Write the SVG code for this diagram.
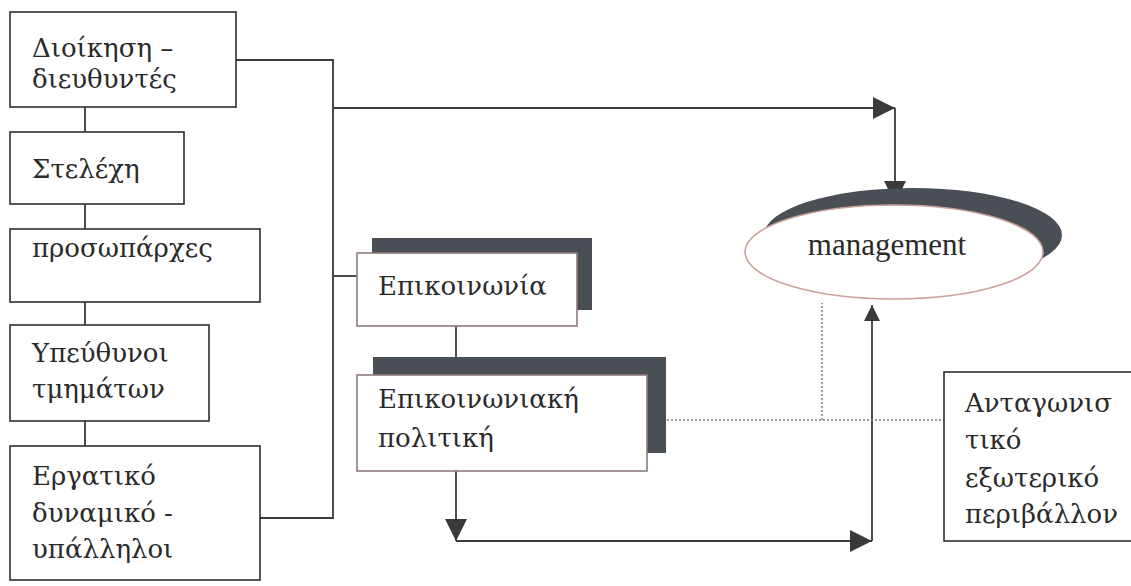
<svg xmlns="http://www.w3.org/2000/svg" width="1131" height="586" viewBox="0 0 1131 586">
<defs>
<marker id="arr" viewBox="0 0 10 10" refX="10" refY="5" markerWidth="22" markerHeight="22" markerUnits="userSpaceOnUse" orient="auto">
<path d="M0,0 L10,5 L0,10 z" fill="#3a3a3a"/>
</marker>
<marker id="arrs" viewBox="0 0 10 10" refX="10" refY="5" markerWidth="16" markerHeight="16" markerUnits="userSpaceOnUse" orient="auto">
<path d="M0,0 L10,5 L0,10 z" fill="#3a3a3a"/>
</marker>
<style>
.box{fill:#fff;stroke:#2e2e2e;stroke-width:1.6}
.pbox{fill:#fff;stroke:#8f7a7a;stroke-width:1.6}
.shadow{fill:#4a4f56}
.t{font-family:"DejaVu Serif","Liberation Serif",serif;font-size:26px;fill:#2a2a2a}
.m{font-family:"Liberation Serif","Times New Roman",serif;font-size:31px;fill:#2a2a2a}
.ln{fill:none;stroke:#3a3a3a;stroke-width:1.8}
.dot{fill:none;stroke:#777;stroke-width:1.4;stroke-dasharray:2 2}
</style>
</defs>
<rect width="1131" height="586" fill="#fff"/>
<g id="connectors">
<path class="ln" d="M236,60 H333 V518 H260"/>
<path class="ln" d="M85,107 V132 M85,204 V229 M85,302 V325 M85,421 V446"/>
<path class="ln" d="M333,276 H357"/>
<path class="ln" d="M333,108 H895" marker-end="url(#arr)"/>
<path class="ln" d="M895,108 V203" marker-end="url(#arr)"/>
<path class="ln" d="M456,326 V357"/>
<path class="ln" d="M456,471 V541" marker-end="url(#arr)"/>
<path class="ln" d="M456,541 H872" marker-end="url(#arr)"/>
<path class="ln" d="M872,541 V305" marker-end="url(#arrs)"/>
<path class="dot" d="M647,420 H944 M822,420 V303"/>
</g>
<g id="n1"><rect class="box" x="10" y="12" width="226" height="95"/><text class="t" x="32" y="57">Διοίκηση –</text><text class="t" x="32" y="88">διευθυντές</text></g>
<g id="n2"><rect class="box" x="10" y="132" width="174" height="72"/><text class="t" x="32" y="178">Στελέχη</text></g>
<g id="n3"><rect class="box" x="10" y="229" width="250" height="73"/><text class="t" x="32" y="257">προσωπάρχες</text></g>
<g id="n4"><rect class="box" x="10" y="325" width="199" height="96"/><text class="t" x="32" y="362">Υπεύθυνοι</text><text class="t" x="32" y="398">τμημάτων</text></g>
<g id="n5"><rect class="box" x="10" y="446" width="250" height="134"/><text class="t" x="32" y="485">Εργατικό</text><text class="t" x="32" y="522">δυναμικό -</text><text class="t" x="32" y="558">υπάλληλοι</text></g>
<g id="n6"><rect class="shadow" x="372" y="238" width="220" height="72"/><rect class="pbox" x="357" y="253" width="220" height="73"/><text class="t" x="378" y="295">Επικοινωνία</text></g>
<g id="n7"><rect class="shadow" x="373" y="357" width="293" height="96"/><rect class="pbox" x="357" y="375" width="290" height="96"/><text class="t" x="378" y="408">Επικοινωνιακή</text><text class="t" x="378" y="447">πολιτική</text></g>
<g id="n8"><ellipse class="shadow" cx="913" cy="235" rx="149" ry="47"/><ellipse cx="894" cy="252" rx="149" ry="47" fill="#fff" stroke="#c9a39b" stroke-width="1.6"/><text class="m" x="887" y="255" text-anchor="middle">management</text></g>
<g id="n9"><rect class="box" x="944" y="372" width="200" height="169"/><text class="t" x="965" y="412">Ανταγωνισ</text><text class="t" x="965" y="449">τικό</text><text class="t" x="965" y="487">εξωτερικό</text><text class="t" x="965" y="523">περιβάλλον</text></g>
</svg>
